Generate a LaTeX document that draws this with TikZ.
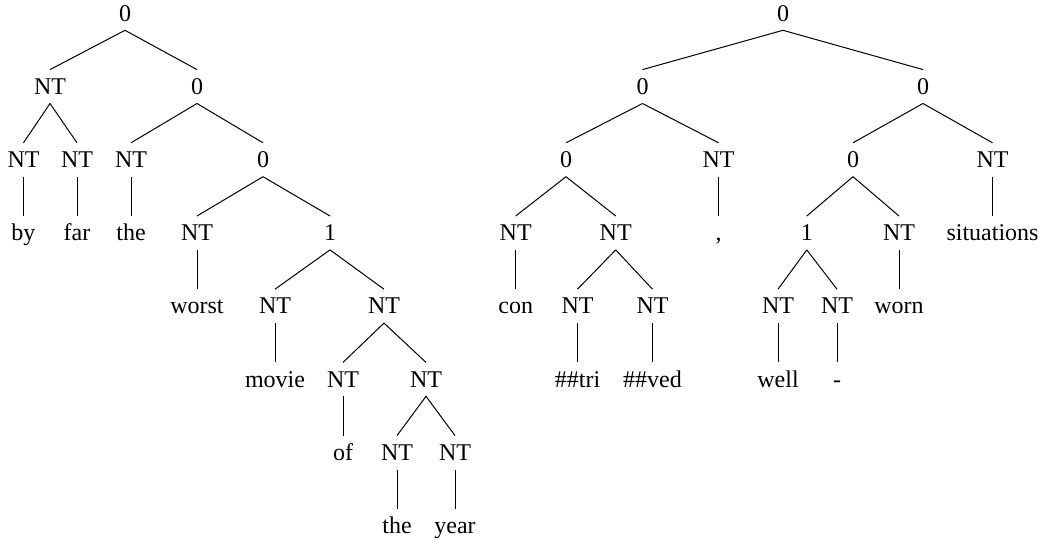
\documentclass[tikz,border=0pt]{standalone}
\usepackage{fontspec}
\setmainfont{Liberation Serif}
\begin{document}
\begin{tikzpicture}[x=1pt,y=-1pt,
  tn/.style={anchor=base,inner sep=0pt,text height=24.5pt,text depth=9pt,font=\fontsize{24}{28}\selectfont},
  br/.style={draw=black,line width=1pt}]
\useasboundingbox (0,0) rectangle (1039,540);
\def\La{21.1}\def\Lb{94.3}\def\Lc{167.5}\def\Ld{240.7}
\def\Le{313.9}\def\Lf{387.1}\def\Lg{460.3}\def\Lh{533.5}
% ---------- left tree ----------
\node[tn] (a) at (125,\La) {0};
\node[tn] (a1) at (50,\Lb) {NT};
\node[tn] (a2) at (197,\Lb) {0};
\node[tn] (a11) at (23.5,\Lc) {NT};
\node[tn] (a12) at (77,\Lc) {NT};
\node[tn] (a21) at (131,\Lc) {NT};
\node[tn] (a22) at (263,\Lc) {0};
\node[tn] (a111) at (23.5,\Ld) {by};
\node[tn] (a121) at (77,\Ld) {far};
\node[tn] (a211) at (131,\Ld) {the};
\node[tn] (a221) at (197,\Ld) {NT};
\node[tn] (a222) at (330,\Ld) {1};
\node[tn] (a2211) at (197,\Le) {worst};
\node[tn] (a2221) at (275,\Le) {NT};
\node[tn] (a2222) at (384,\Le) {NT};
\node[tn] (a22211) at (275,\Lf) {movie};
\node[tn] (a22221) at (343,\Lf) {NT};
\node[tn] (a22222) at (426,\Lf) {NT};
\node[tn] (a222211) at (343,\Lg) {of};
\node[tn] (a222221) at (397,\Lg) {NT};
\node[tn] (a222222) at (455,\Lg) {NT};
\node[tn] (a2222211) at (397,\Lh) {the};
\node[tn] (a2222221) at (455,\Lh) {year};
\foreach \p/\c in {a/a1,a/a2,a1/a11,a1/a12,a2/a21,a2/a22,a11/a111,a12/a121,a21/a211,
  a22/a221,a22/a222,a221/a2211,a222/a2221,a222/a2222,a2221/a22211,a2222/a22221,a2222/a22222,
  a22221/a222211,a22222/a222221,a22222/a222222,a222221/a2222211,a222222/a2222221}
  \draw[br] (\p.south) -- (\c.north);
% ---------- right tree ----------
\node[tn] (b) at (783,\La) {0};
\node[tn] (b1) at (642.5,\Lb) {0};
\node[tn] (b2) at (923,\Lb) {0};
\node[tn] (b11) at (566,\Lc) {0};
\node[tn] (b12) at (718.6,\Lc) {NT};
\node[tn] (b21) at (853,\Lc) {0};
\node[tn] (b22) at (992.5,\Lc) {NT};
\node[tn] (b111) at (515.7,\Ld) {NT};
\node[tn] (b112) at (615.7,\Ld) {NT};
\node[tn] (b121) at (718.6,\Ld) {,};
\node[tn] (b211) at (806.8,\Ld) {1};
\node[tn] (b212) at (899,\Ld) {NT};
\node[tn] (b221) at (992.5,\Ld) {situations};
\node[tn] (b1111) at (515.7,\Le) {con};
\node[tn] (b1121) at (577.5,\Le) {NT};
\node[tn] (b1122) at (652.5,\Le) {NT};
\node[tn] (b2111) at (778,\Le) {NT};
\node[tn] (b2112) at (837,\Le) {NT};
\node[tn] (b2121) at (899,\Le) {worn};
\node[tn] (b11211) at (577.5,\Lf) {\#\#tri};
\node[tn] (b11221) at (652.5,\Lf) {\#\#ved};
\node[tn] (b21111) at (778,\Lf) {well};
\node[tn] (b21121) at (837,\Lf) {-};
\foreach \p/\c in {b/b1,b/b2,b1/b11,b1/b12,b2/b21,b2/b22,b11/b111,b11/b112,b12/b121,
  b21/b211,b21/b212,b22/b221,b111/b1111,b112/b1121,b112/b1122,b211/b2111,b211/b2112,
  b212/b2121,b1121/b11211,b1122/b11221,b2111/b21111,b2112/b21121}
  \draw[br] (\p.south) -- (\c.north);
\end{tikzpicture}
\end{document}
